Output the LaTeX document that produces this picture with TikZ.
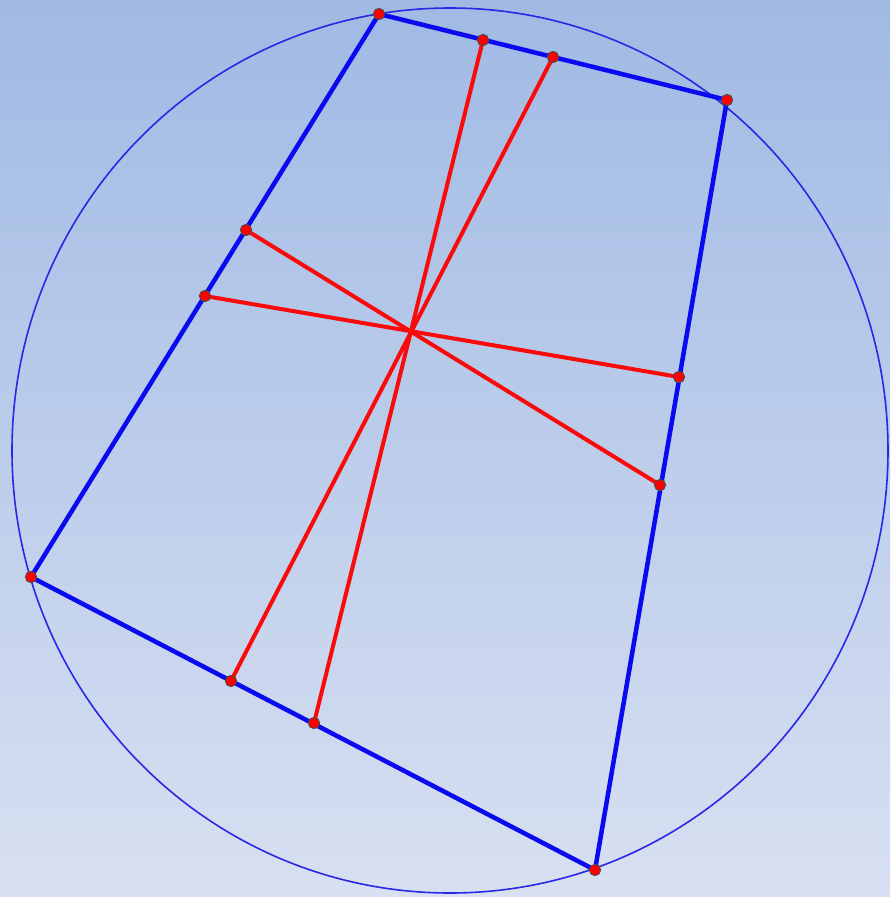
\documentclass[tikz,border=0pt]{standalone}
\usepackage{tikz}
\usetikzlibrary{calc,positioning}
\definecolor{skyTop}{RGB}{160,186,228}
\definecolor{skyBottom}{RGB}{216,224,241}
\definecolor{rimBlue}{RGB}{40,40,230}
\definecolor{sideBlue}{RGB}{10,10,240}
\definecolor{chordRed}{RGB}{250,10,10}
\tikzset{
  ptDot/.style={circle,fill=red,draw=black!70,line width=0.7pt,
                inner sep=0pt,minimum size=8.5pt},
  sideLine/.style={line width=3.4pt,draw=sideBlue},
  chordLine/.style={line width=3pt,draw=chordRed},
}
\begin{document}
\begin{tikzpicture}[x=0.75pt,y=-0.75pt]
  \shade[top color=skyTop,bottom color=skyBottom] (0,0) rectangle (890,897);
  \useasboundingbox (0,0) rectangle (890,897);
  \draw[rimBlue,line width=1.2pt] (450,450.5) ellipse [x radius=438,y radius=442.5];
  % quadrilateral corners
  \coordinate (qa) at (379,14);
  \coordinate (qb) at (727,100);
  \coordinate (qc) at (595,870);
  \coordinate (qd) at (31,577);
  % points on the sides
  \coordinate (ab1) at (483,40);
  \coordinate (ab2) at (553,57);
  \coordinate (ad1) at (246,230);
  \coordinate (ad2) at (205,296);
  \coordinate (bc1) at (679,377);
  \coordinate (bc2) at (660,485);
  \coordinate (dc1) at (231,681);
  \coordinate (dc2) at (314,723);
  \foreach \x/\y in {qa/qb,qb/qc,qc/qd,qd/qa}{\draw[sideLine](\x)--(\y);}
  \foreach \x/\y in {ab1/dc2,ab2/dc1,ad1/bc2,ad2/bc1}{\draw[chordLine](\x)--(\y);}
  \foreach \p in {qa,qb,qc,qd,ab1,ab2,ad1,ad2,bc1,bc2,dc1,dc2}{\node[ptDot](n\p) at (\p){};}
\end{tikzpicture}
\end{document}
